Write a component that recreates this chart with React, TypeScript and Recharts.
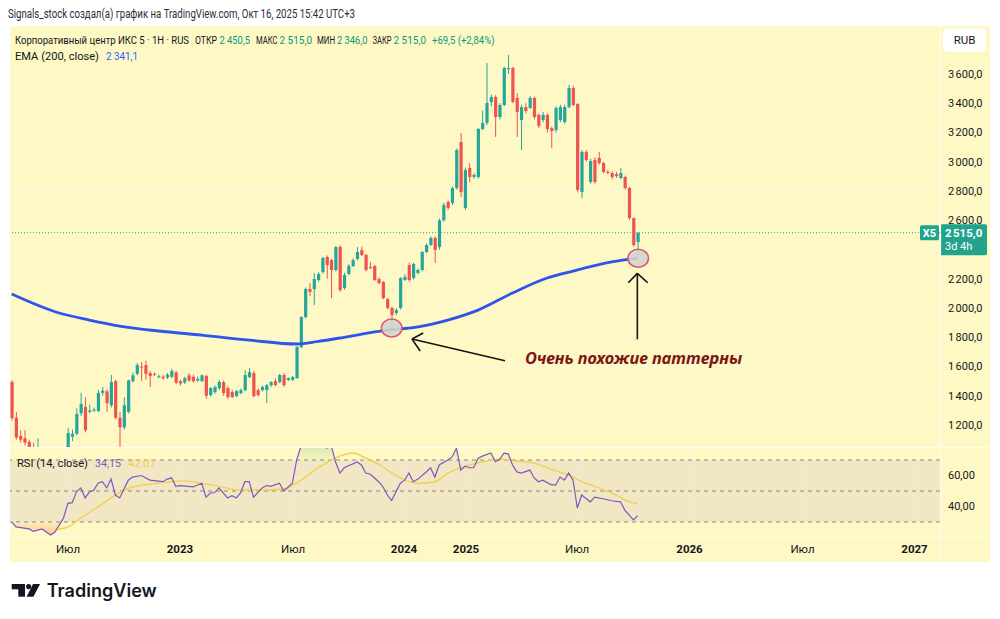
import React from 'react';
import {
  ComposedChart, Bar, Line, Area, XAxis, YAxis, CartesianGrid,
  ReferenceLine, ReferenceArea, ReferenceDot,
} from 'recharts';

// ---------- data ----------
const opens = [
  1495, 1250, 1125, 1110, 1085, 1040, 1000, 1030, 975, 950, 925, 985, 1020, 1035, 1120, 1140, 1280, 1325, 1290, 1300,
  1295, 1420, 1430, 1335, 1500, 1250, 1185, 1290, 1500, 1550, 1600, 1610, 1555, 1550, 1528, 1530, 1525, 1530, 1560, 1500,
  1490, 1540, 1530, 1505, 1500, 1535, 1405, 1425, 1453, 1494, 1453, 1426, 1398, 1418, 1439, 1528, 1555, 1439, 1439, 1439,
  1473, 1500, 1494, 1542, 1508, 1508, 1521, 1733, 1938, 2130, 2130, 2192, 2246, 2349, 2328, 2260, 2417, 2137, 2233, 2287,
  2335, 2397, 2362, 2280, 2287, 2198, 2178, 2061, 2000, 1966, 2000, 2192, 2294, 2205, 2240, 2260, 2383, 2431, 2479, 2417,
  2600, 2725, 2718, 2820, 3135, 2684, 2957, 2897, 2896, 3224, 3265, 3408, 3443, 3306, 3388, 3634, 3641, 3436, 3285, 3374,
  3368, 3436, 3320, 3285, 3320, 3230, 3217, 3285, 3272, 3374, 3504, 3395, 2793, 3067, 2862, 3012, 3026, 2991, 2930, 2923,
  2916, 2889, 2896, 2820, 2615, 2450.5,
];
const highs = [
  1505, 1290, 1165, 1165, 1100, 1080, 1110, 1045, 1010, 990, 1000, 1040, 1045, 1180, 1170, 1315, 1420, 1390, 1340, 1320,
  1440, 1460, 1445, 1542, 1510, 1290, 1390, 1510, 1560, 1625, 1630, 1640, 1570, 1560, 1545, 1540, 1555, 1585, 1570, 1510,
  1530, 1555, 1545, 1530, 1545, 1545, 1460, 1470, 1510, 1505, 1465, 1440, 1440, 1450, 1576, 1590, 1570, 1450, 1470, 1480,
  1500, 1520, 1550, 1555, 1525, 1535, 1740, 1945, 2140, 2170, 2240, 2245, 2350, 2360, 2335, 2425, 2430, 2240, 2300, 2340,
  2417, 2420, 2370, 2315, 2295, 2210, 2185, 2070, 2010, 2000, 2210, 2230, 2310, 2310, 2270, 2390, 2440, 2490, 2490, 2610,
  2720, 2735, 2830, 3090, 3197, 2960, 2990, 2920, 3230, 3350, 3675, 3460, 3455, 3400, 3650, 3730, 3650, 3470, 3390, 3400,
  3450, 3445, 3330, 3340, 3330, 3240, 3380, 3390, 3390, 3525, 3520, 3400, 3080, 3080, 3020, 3030, 3067, 3000, 2945, 2935,
  2930, 2957, 2905, 2830, 2620, 2515,
];
const lows = [
  1230, 1100, 1080, 1060, 1000, 980, 980, 960, 930, 900, 910, 960, 990, 1000, 1090, 1130, 1260, 1150, 1280, 1290,
  1290, 1400, 1290, 1320, 1240, 1000, 1170, 1280, 1490, 1540, 1500, 1510, 1460, 1535, 1520, 1510, 1515, 1520, 1480, 1470,
  1480, 1495, 1490, 1495, 1495, 1380, 1395, 1415, 1440, 1400, 1380, 1385, 1390, 1410, 1430, 1520, 1390, 1395, 1430, 1350,
  1460, 1465, 1485, 1460, 1500, 1500, 1515, 1725, 1930, 2080, 2020, 2180, 2235, 2200, 2068, 2250, 2110, 2125, 2225, 2280,
  2325, 2355, 2250, 2265, 2185, 2160, 2060, 1990, 1836, 1950, 1990, 2185, 2180, 2195, 2230, 2250, 2375, 2425, 2308, 2400,
  2590, 2670, 2705, 2810, 2760, 2670, 2860, 2885, 2885, 3215, 3250, 3380, 3170, 3290, 3380, 3600, 3400, 3170, 3080, 3330,
  3360, 3290, 3230, 3270, 3200, 3094, 3200, 3270, 3260, 3365, 3380, 2790, 2752, 3000, 2850, 2850, 2980, 2920, 2915, 2880,
  2890, 2880, 2810, 2600, 2420, 2346,
];
const closes = [
  1248, 1115, 1100, 1080, 1040, 1010, 1040, 975, 950, 925, 985, 1030, 1040, 1145, 1140, 1275, 1345, 1165, 1300, 1305,
  1420, 1435, 1350, 1495, 1250, 1185, 1335, 1505, 1540, 1610, 1595, 1550, 1535, 1545, 1533, 1520, 1545, 1570, 1490, 1485,
  1520, 1505, 1500, 1515, 1540, 1400, 1453, 1460, 1494, 1419, 1391, 1391, 1432, 1439, 1542, 1562, 1398, 1405, 1460, 1473,
  1494, 1473, 1542, 1473, 1521, 1528, 1733, 1938, 2130, 2110, 2198, 2233, 2342, 2294, 2260, 2417, 2123, 2226, 2288, 2328,
  2383, 2362, 2260, 2274, 2192, 2171, 2068, 2000, 1952, 1986, 2205, 2212, 2191, 2301, 2260, 2383, 2431, 2479, 2397, 2600,
  2704, 2684, 2820, 3080, 2793, 2944, 2896, 2910, 3224, 3265, 3402, 3443, 3306, 3388, 3641, 3641, 3409, 3340, 3374, 3347,
  3436, 3306, 3245, 3320, 3224, 3210, 3367, 3374, 3374, 3504, 3388, 2807, 3067, 3012, 3005, 2862, 2991, 2930, 2923, 2896,
  2902, 2923, 2820, 2615, 2430, 2515,
];

const emaIdx = [0, 11, 18, 25, 34, 44, 55, 66, 71, 77, 85, 88, 93, 101, 108, 116, 124, 130, 139, 145];
const emaVals = [2096, 1966, 1918, 1877, 1843, 1815, 1781, 1754, 1772, 1800, 1840, 1852, 1866, 1918, 1986, 2103, 2205, 2253, 2315, 2341.1];

const rsiIdx = [
  0, 1, 4, 5, 7, 9, 10, 12, 13, 14, 15, 16, 17, 18, 19, 20, 21, 22, 23, 24, 25, 27, 28, 30, 32, 35, 36, 37, 38, 39,
  42, 44, 45, 46, 47, 48, 50, 51, 52, 53, 54, 55, 56, 57, 58, 59, 60, 62, 63, 65, 66, 67, 68, 69, 70, 71, 72, 73, 74, 75,
  76, 77, 80, 81, 82, 83, 85, 86, 87, 88, 90, 91, 92, 93, 94, 96, 97, 98, 99, 101, 102, 103, 104, 105, 106, 107, 108, 109, 111, 112,
  113, 114, 115, 116, 117, 118, 120, 121, 122, 123, 125, 126, 127, 128, 129, 130, 131, 132, 134, 135, 137, 139, 141, 142, 144, 145,
];
const rsiVals = [
  30, 26.8, 25.5, 24, 25.5, 21.6, 23.5, 32.6, 42, 42.5, 49.5, 52, 45.5, 49.4, 50.5, 55, 56, 52, 57.7, 47.4, 45.5, 57, 59, 60, 57, 56, 57.7, 58.5, 53, 53.5,
  52.6, 55, 46, 48.7, 49, 52, 45.5, 47, 45.5, 48.7, 56, 56, 46, 49, 52, 53.5, 53, 55, 50, 55, 70, 79, 85, 88, 86, 88, 83, 77.7, 79.5, 68.7,
  61.6, 65, 68.7, 66.8, 61.6, 61, 56, 52.6, 47.4, 44, 55, 57, 61.6, 56, 57.5, 62.3, 65, 59, 66.8, 70, 72, 77.7, 63.5, 66, 65, 65, 71, 72.5, 74.5, 69,
  70.5, 74.5, 74, 66.8, 62.3, 61.6, 63.5, 58.4, 56, 57, 54, 54, 59, 57, 61.6, 57, 39, 47.4, 43, 46, 45, 43.7, 43, 37.7, 31.3, 34.15,
];

const maIdx = [10, 13, 16, 20, 24, 28, 34, 40, 44, 48, 53, 58, 63, 67, 71, 74, 79, 82, 86, 90, 94, 98, 101, 105, 109, 113, 117, 121, 125, 129, 132, 136, 140, 143, 145];
const maVals = [25, 26.8, 32.6, 39.7, 47.4, 52.6, 55, 56.5, 55, 53, 50.6, 50.6, 51.3, 57, 65, 70, 74.5, 71.3, 65.5, 58.4, 55, 56, 61.6, 66, 68.7, 70.6, 69.4, 68, 64, 60.3, 56, 52, 47.4, 43, 42.07];

const priceTicks = [1200, 1400, 1600, 1800, 2000, 2200, 2400, 2600, 2800, 3000, 3200, 3400, 3600];
const rsiTicks = [40, 60];
const rsiLevels = [70, 50, 30];
const timeTickIdx = [13.03, 38.97, 65.15, 90.86, 105.22, 130.93, 156.98, 183.15, 209.1];
const timeTickLabels = ['Июл', '2023', 'Июл', '2024', '2025', 'Июл', '2026', 'Июл', '2027'];

const lastClose = 2515;
const markA = { i: 88.0, p: 1863 };
const markB = { i: 145.1, p: 2340 };
const arrowA = { tail: { x: 114.25, y: 1640 }, tip: { x: 92.7, y: 1788 }, w1: { x: 95.3, y: 1829 }, w2: { x: 94.6, y: 1706 } };
const arrowB = { tail: { x: 144.9, y: 1786 }, tip: { x: 144.9, y: 2237 }, w1: { x: 142.8, y: 2173 }, w2: { x: 147.3, y: 2173 } };
const noteAt = { i: 118.9, p: 1617 };
const noteText = 'Очень похожие паттерны';

// ---------- tables built from the arrays ----------
const candles = opens.map((o, i) => ({ i, open: o, high: highs[i], low: lows[i], close: closes[i] }));
const emaData = emaIdx.map((i, k) => ({ i, ema: emaVals[k] }));
const rsiData = rsiIdx.map((i, k) => ({
  i,
  rsi: rsiVals[k],
  ob: [70, Math.max(70, rsiVals[k])],
  os: [Math.min(30, rsiVals[k]), 30],
}));
const maData = maIdx.map((i, k) => ({ i, ma: maVals[k] }));

// ---------- styles ----------
const BG = '#FEF8C5';
const GRID = '#FCF8E0';
const SEP = '#FFFCE8';
const GREEN = '#26A69A';
const RED = '#EF5350';
const TAG = '#22A38E';
const TXT = '#131722';
const FONT = "Roboto, 'Noto Sans', sans-serif";
const X_DOMAIN: [number, number] = [-0.4, 215];
const P_DOMAIN: [number, number] = [1050, 3928];

const fmtPrice = (v: number) => {
  const th = Math.floor(v / 1000);
  const rest = String(Math.round(v % 1000)).padStart(3, '0');
  return `${th}\u202F${rest},0`;
};
const fmtRsi = (v: number) => `${v},00`;

function Candle(props: any) {
  const { x, y, width, height, payload } = props;
  if (x == null || y == null || !payload) return null;
  const { open, close, high, low } = payload;
  const color = close >= open ? GREEN : RED;
  const top = Math.min(y, y + height);
  const h = Math.abs(height);
  const k = h / ((high - low) || 1);
  const yO = top + (high - open) * k;
  const yC = top + (high - close) * k;
  const cx = x + width / 2;
  const bTop = Math.min(yO, yC);
  const bH = Math.max(1, Math.abs(yO - yC));
  return (
    <g>
      <line x1={cx} x2={cx} y1={top} y2={top + h} stroke={color} strokeWidth={1} />
      <rect x={cx - 1.6} y={bTop} width={3.2} height={bH} fill={color} />
    </g>
  );
}

function PriceTag(props: any) {
  const vb = props.viewBox || {};
  const { x = 0, y = 0, width = 0 } = vb;
  const right = x + width;
  return (
    <g>
      <rect x={right - 20} y={y - 7.5} width={19} height={15} rx={1.5} fill={TAG} />
      <text x={right - 10.5} y={y + 4} textAnchor="middle" fontSize={11} fontWeight={700} fill="#fff" fontFamily={FONT}>X5</text>
      <rect x={right} y={y - 8.5} width={47} height={31} rx={2} fill={TAG} />
      <text x={right + 5} y={y + 4} fontSize={11.5} fontWeight={700} fill="#fff" fontFamily={FONT}>{fmtPrice(lastClose)}</text>
      <text x={right + 5} y={y + 17.5} fontSize={11} fill="#fff" fontFamily={FONT}>3d 4h</text>
    </g>
  );
}

const Ellipse = (props: any) => (
  <ellipse cx={props.cx} cy={props.cy} rx={10.3} ry={9} fill="#D3D5CF" fillOpacity={0.9} stroke="#D9546E" strokeWidth={1.5} />
);

const Note = (props: any) => (
  <text x={props.cx} y={props.cy} fontSize={16} fontStyle="italic" fontWeight={700} fill="#7A1717"
    fontFamily="'Noto Sans', 'DejaVu Sans', sans-serif" textLength={217} lengthAdjust="spacingAndGlyphs">
    {noteText}
  </text>
);

function TimeTick(props: any) {
  const { x, y, payload } = props;
  const idx = timeTickIdx.indexOf(payload.value);
  const label = idx >= 0 ? timeTickLabels[idx] : '';
  const bold = /^\d{4}$/.test(label);
  return (
    <text x={x} y={y} dy="0.71em" textAnchor="middle" fontSize={11.5} fontWeight={bold ? 700 : 400} fill={TXT} fontFamily={FONT}>
      {label}
    </text>
  );
}

export default function App() {
  const segs = [
    [arrowA.tail, arrowA.tip], [arrowA.tip, arrowA.w1], [arrowA.tip, arrowA.w2],
    [arrowB.tail, arrowB.tip], [arrowB.tip, arrowB.w1], [arrowB.tip, arrowB.w2],
  ];
  return (
    <div style={{ position: 'absolute', left: 0, top: 0, width: 1000, height: 619, background: '#fff', fontFamily: FONT, overflow: 'hidden' }}>
      <div style={{ position: 'absolute', left: 10, top: 26, width: 980, height: 536, background: BG }} />

      {/* price pane */}
      <div style={{ position: 'absolute', left: 10, top: 26 }}>
        <ComposedChart width={980} height={421} data={candles} margin={{ top: 0, right: 0, bottom: 0, left: 0 }}>
          <CartesianGrid stroke={GRID} strokeWidth={1} />
          <XAxis type="number" dataKey="i" domain={X_DOMAIN} allowDataOverflow ticks={timeTickIdx} interval={0}
            height={0} tick={false} axisLine={false} tickLine={false} />
          <YAxis orientation="right" width={50} domain={P_DOMAIN} allowDataOverflow ticks={priceTicks} interval={0}
            tickFormatter={fmtPrice} axisLine={false} tickLine={false} tickSize={6} tickMargin={2}
            tick={{ fontSize: 11, fill: TXT, fontFamily: FONT }} />
          <ReferenceLine y={lastClose} stroke={TAG} strokeDasharray="1 2" strokeWidth={1} />
          <Bar dataKey={(d: any) => [d.low, d.high]} shape={(p: any) => <Candle {...p} />} barSize={3} isAnimationActive={false} />
          <Line data={emaData} dataKey="ema" type="monotone" stroke="#2E55E8" strokeWidth={2.8} dot={false} isAnimationActive={false} />
          <ReferenceDot x={markA.i} y={markA.p} r={10} shape={Ellipse} />
          <ReferenceDot x={markB.i} y={markB.p} r={10} shape={Ellipse} />
          {segs.map((s, k) => (
            <ReferenceLine key={k} segment={s as any} stroke="#141414" strokeWidth={1.6} ifOverflow="visible" />
          ))}
          <ReferenceDot x={noteAt.i} y={noteAt.p} r={1} shape={Note} />
        </ComposedChart>
      </div>

      {/* price tag layer, same scales, drawn above the axis labels */}
      <div style={{ position: 'absolute', left: 10, top: 26 }}>
        <ComposedChart width={980} height={421} data={candles} margin={{ top: 0, right: 0, bottom: 0, left: 0 }}>
          <XAxis type="number" dataKey="i" domain={X_DOMAIN} allowDataOverflow height={0} tick={false} axisLine={false} tickLine={false} />
          <YAxis orientation="right" width={50} domain={P_DOMAIN} allowDataOverflow tick={false} axisLine={false} tickLine={false} />
          <ReferenceLine y={lastClose} stroke="none" label={(p: any) => <PriceTag {...p} />} />
        </ComposedChart>
      </div>

      {/* RSI pane + time axis */}
      <div style={{ position: 'absolute', left: 10, top: 447 }}>
        <ComposedChart width={980} height={115} margin={{ top: 0, right: 0, bottom: 0, left: 0 }}>
          <defs>
            <linearGradient id="obFill" x1="0" y1="0" x2="0" y2="1">
              <stop offset="0%" stopColor="#4CAF50" stopOpacity={0.35} />
              <stop offset="100%" stopColor="#4CAF50" stopOpacity={0.05} />
            </linearGradient>
            <linearGradient id="osFill" x1="0" y1="0" x2="0" y2="1">
              <stop offset="0%" stopColor="#FF5A2A" stopOpacity={0.05} />
              <stop offset="100%" stopColor="#FF5A2A" stopOpacity={0.35} />
            </linearGradient>
          </defs>
          <ReferenceArea y1={30} y2={70} fill="#7E57C2" fillOpacity={0.1} stroke="none" ifOverflow="visible" />
          <CartesianGrid stroke={GRID} horizontal={false} />
          <XAxis type="number" dataKey="i" domain={X_DOMAIN} allowDataOverflow ticks={timeTickIdx} interval={0}
            height={25} axisLine={false} tickLine={false} tickSize={6} tickMargin={2} tick={(p: any) => <TimeTick {...p} />} />
          <YAxis orientation="right" width={50} domain={[20.3, 78.4]} allowDataOverflow ticks={rsiTicks} interval={0}
            tickFormatter={fmtRsi} axisLine={false} tickLine={false} tickSize={6} tickMargin={2}
            tick={{ fontSize: 11, fill: TXT, fontFamily: FONT }} />
          {rsiLevels.map((v) => (
            <ReferenceLine key={v} y={v} stroke="#8E8A7C" strokeDasharray="4 4" strokeWidth={1} />
          ))}
          <Area data={rsiData} dataKey="ob" type="linear" stroke="none" fill="url(#obFill)" fillOpacity={1} isAnimationActive={false} />
          <Area data={rsiData} dataKey="os" type="linear" stroke="none" fill="url(#osFill)" fillOpacity={1} isAnimationActive={false} />
          <Line data={maData} dataKey="ma" type="monotone" stroke="#F2D04E" strokeWidth={1.4} dot={false} isAnimationActive={false} />
          <Line data={rsiData} dataKey="rsi" type="linear" stroke="#7E57C2" strokeWidth={1.2} dot={false} isAnimationActive={false} />
        </ComposedChart>
      </div>

      {/* separators, legends, header, logo */}
      <svg width={1000} height={619} style={{ position: 'absolute', left: 0, top: 0, pointerEvents: 'none' }}>
        <line x1={10} x2={990} y1={447.5} y2={447.5} stroke={SEP} strokeWidth={1.2} />
        <line x1={10} x2={990} y1={537.5} y2={537.5} stroke={SEP} strokeWidth={1.2} />
        <line x1={940.5} x2={940.5} y1={26} y2={562} stroke={SEP} strokeWidth={1.2} />

        <text x={8} y={18.3} fontSize={12} fill="#2A2E39" fontFamily={FONT} textLength={347} lengthAdjust="spacingAndGlyphs">
          Signals_stock создал(а) график на TradingView.com, Окт 16, 2025 15:42 UTC+3
        </text>

        <g fontSize={11.5} fill={TXT} fontFamily={FONT}>
          <text x={15} y={44.3} textLength={174} lengthAdjust="spacingAndGlyphs">Корпоративный центр ИКС 5 · 1H · RUS</text>
          <text x={195} y={44.3} textLength={22} lengthAdjust="spacingAndGlyphs">ОТКР</text>
          <text x={219.5} y={44.3} textLength={30.5} lengthAdjust="spacingAndGlyphs" fill="#089981">2 450,5</text>
          <text x={256} y={44.3} textLength={21.5} lengthAdjust="spacingAndGlyphs">МАКС</text>
          <text x={279.5} y={44.3} textLength={32.5} lengthAdjust="spacingAndGlyphs" fill="#089981">2 515,0</text>
          <text x={317} y={44.3} textLength={18} lengthAdjust="spacingAndGlyphs">МИН</text>
          <text x={337} y={44.3} textLength={30.5} lengthAdjust="spacingAndGlyphs" fill="#089981">2 346,0</text>
          <text x={372.5} y={44.3} textLength={19} lengthAdjust="spacingAndGlyphs">ЗАКР</text>
          <text x={393.5} y={44.3} textLength={32.5} lengthAdjust="spacingAndGlyphs" fill="#089981">2 515,0</text>
          <text x={432} y={44.3} textLength={62.5} lengthAdjust="spacingAndGlyphs" fill="#089981">+69,5 (+2,84%)</text>
          <text x={15} y={59.5} textLength={84} lengthAdjust="spacingAndGlyphs">EMA (200, close)</text>
          <text x={106} y={59.5} textLength={32} lengthAdjust="spacingAndGlyphs" fill="#2962FF">2 341,1</text>
          <text x={17} y={466.5} textLength={71} lengthAdjust="spacingAndGlyphs">RSI (14, close)</text>
          <text x={95} y={466.5} textLength={26} lengthAdjust="spacingAndGlyphs" fill="#7E57C2">34,15</text>
          <text x={128} y={466.5} textLength={28} lengthAdjust="spacingAndGlyphs" fill="#F2D04E">42,07</text>
        </g>

        <rect x={943} y={28.5} width={43} height={23} rx={4} fill="#FFFFFF" />
        <text x={964.5} y={44} textAnchor="middle" fontSize={11.5} fill={TXT} fontFamily={FONT}>RUB</text>

        <g fill="#131722">
          <rect x={11.7} y={584} width={13.3} height={5.3} />
          <rect x={18.3} y={584} width={6.7} height={12.7} />
          <circle cx={28.6} cy={586.6} r={2.6} />
          <polygon points="33,584 40,584 33.4,596.7 26.6,596.7" />
        </g>
        <text x={46.7} y={596.7} fontSize={18} fontWeight={600} fill="#131722" fontFamily="Inter, Roboto, sans-serif"
          textLength={110} lengthAdjust="spacingAndGlyphs">TradingView</text>
      </svg>
    </div>
  );
}
